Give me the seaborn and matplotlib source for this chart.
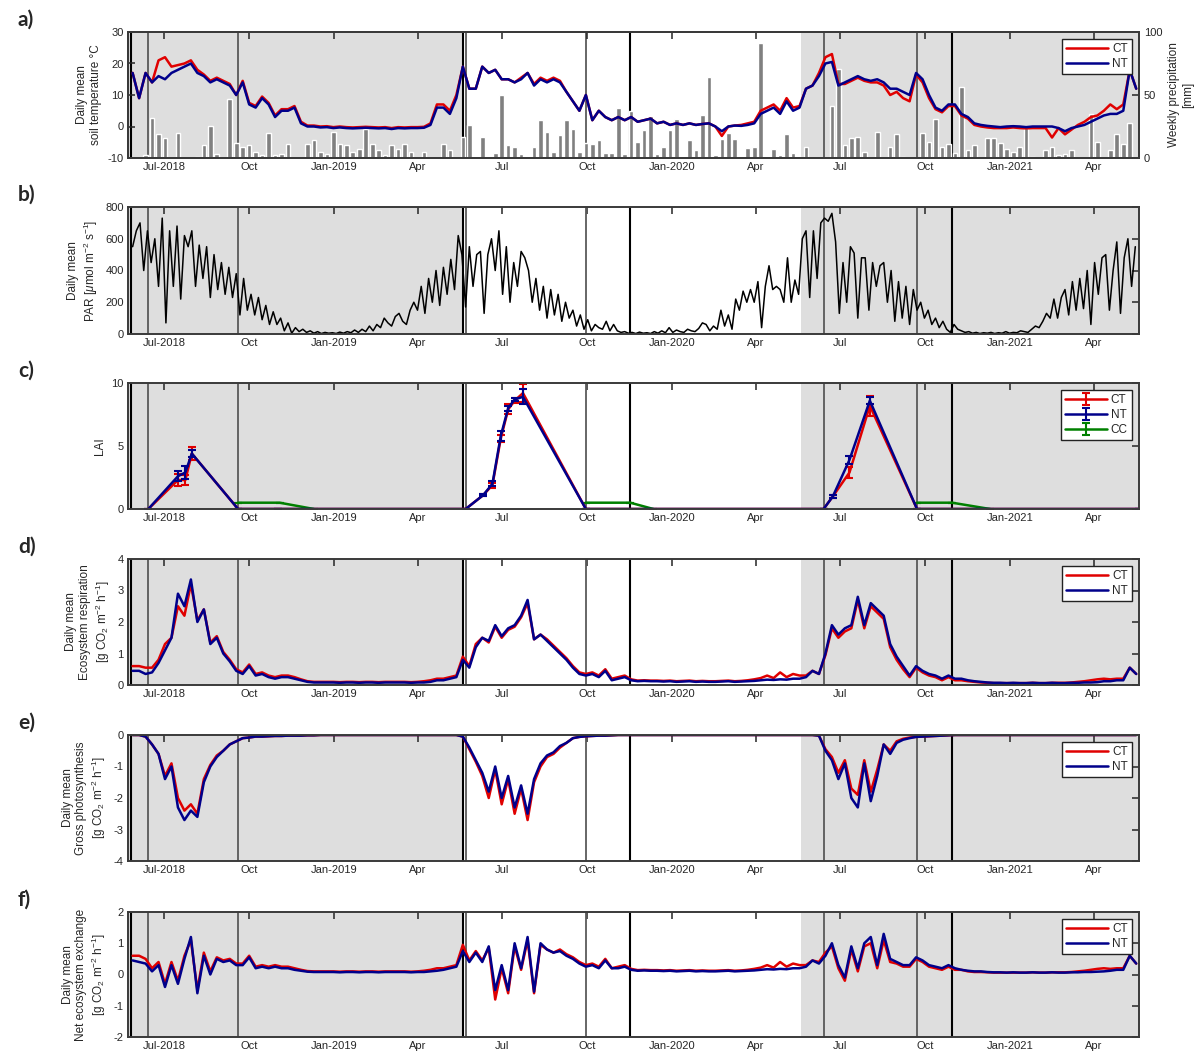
import matplotlib
matplotlib.use('Agg')
import matplotlib.pyplot as plt
import pandas as pd
import seaborn as sns

sns.set_theme(style='white')
plt.rcParams['font.family'] = ['Liberation Sans', 'DejaVu Sans']
plt.rcParams['mathtext.fontset'] = 'custom'
plt.rcParams['mathtext.rm'] = 'Liberation Sans'
plt.rcParams['mathtext.it'] = 'Liberation Sans:italic'
plt.rcParams['mathtext.bf'] = 'Liberation Sans:bold'
plt.rcParams['axes.unicode_minus'] = False

# ---- data ----
# weekly values starting 2018-05-28
SERIES_START = '2018-05-28'

soil_t_ct = [17, 9, 17, 14, 21, 22, 19, 19.5, 20, 21,
             18, 16.5, 14.5, 15.5, 14.5, 13.5, 10, 14.5, 7.5, 6.5,
             9.5, 7.5, 3.5, 5.5, 5.5, 6.5, 1.5, 0.3, 0.3, 0,
             0.1, -0.2, 0, -0.2, -0.3, -0.2, -0.1, -0.2, -0.3, -0.2,
             -0.5, -0.2, -0.3, -0.2, -0.2, -0.1, 1, 7, 7, 5,
             10, 19, 12, 12, 19, 17, 18, 15, 15, 14,
             15.5, 17, 13.5, 15.5, 14.5, 15.5, 14.5, 11, 8, 5,
             10, 2, 5, 3, 2, 3, 2, 3, 1.5, 2,
             2.5, 1, 1.5, 0.5, 1, 0.5, 1, 0.5, 0.8, 1,
             0, -3, 0, 0.3, 0.5, 1, 1.5, 5, 6, 7,
             5, 9, 6, 6.5, 12, 13, 17, 22, 23, 13.5,
             13.5, 14.5, 15.5, 14.5, 14, 14, 13, 10, 11, 9,
             8, 16.5, 14, 9, 5.5, 4.5, 6.5, 6.5, 3.5, 2.5,
             0.5, 0, -0.3, -0.5, -0.5, -0.5, -0.3, -0.5, -0.6, -0.5,
             -0.5, -0.5, -3.5, -0.5, -2.5, -1, 0.5, 1.5, 3, 3.5,
             5, 7, 5.5, 7, 18, 12]
soil_t_nt = [17, 9, 17, 14, 16, 15, 17, 18, 19, 20,
             17, 16, 14, 15, 14, 13, 10, 14, 7, 6,
             9, 7, 3, 5, 5, 6, 1, 0, 0, -0.3,
             -0.2, -0.5, -0.3, -0.5, -0.6, -0.5, -0.4, -0.5, -0.6, -0.5,
             -0.8, -0.5, -0.6, -0.5, -0.5, -0.4, 0.5, 6, 6, 4,
             9, 19, 12, 12, 19, 17, 18, 15, 15, 14,
             15, 17, 13, 15, 14, 15, 14, 11, 8, 5,
             10, 2, 5, 3, 2, 3, 2, 3, 1.5, 2,
             2.5, 1, 1.5, 0.5, 1, 0.5, 1, 0.5, 0.8, 1,
             0, -1.5, 0, 0.3, 0.2, 0.5, 1, 4, 5, 6,
             4, 8, 5, 6, 12, 13, 16, 20, 20.5, 13,
             14, 15, 16, 15, 14.5, 15, 14, 12, 12, 11,
             10, 17, 15, 10, 6, 5, 7, 7, 4, 3,
             1, 0.5, 0.2, 0, -0.2, 0, 0.1, 0, -0.2, 0,
             0, 0, 0, -0.5, -1.5, -0.5, 0, 0.5, 1.5, 2.5,
             3.5, 4, 4, 5, 18, 12]
precip_weekly = [0, 0, 2, 32, 19, 16, 0, 20, 0, 0,
                 1, 10, 25, 3, 0, 47, 12, 9, 10, 5,
                 2, 20, 2, 3, 11, 0, 0, 11, 14, 5,
                 3, 21, 11, 10, 5, 7, 23, 11, 6, 2,
                 10, 7, 11, 5, 0, 5, 0, 0, 11, 6,
                 0, 17, 26, 0, 17, 1, 4, 50, 10, 9,
                 3, 0, 9, 30, 21, 5, 18, 30, 23, 5,
                 12, 11, 14, 4, 4, 40, 3, 37, 13, 22,
                 33, 3, 9, 22, 31, 0.5, 14, 6, 34, 64,
                 2, 15, 20, 15, 0, 8, 8.5, 91, 0, 7,
                 2, 19, 4, 1, 9, 0, 0, 0, 41, 71,
                 10, 16, 17, 5, 0, 21, 0, 8.5, 19, 1,
                 0, 0, 20, 13, 31, 9, 11, 4, 56, 6,
                 10, 0, 15.5, 15.5, 12, 7.5, 5, 9, 24, 1,
                 0, 6, 9, 2, 3, 6, 0, 0, 35, 13,
                 0, 6, 19, 11, 28, 0]

# PAR every 4 days starting 2018-05-28
par = [550, 650, 700, 400, 650, 450, 600, 300, 730, 70,
       650, 300, 680, 220, 620, 550, 650, 300, 560, 350,
       550, 230, 500, 280, 450, 250, 420, 230, 380, 120,
       350, 150, 250, 120, 230, 90, 180, 60, 140, 60,
       100, 20, 70, 5, 40, 15, 30, 10, 20, 5,
       15, 3, 10, 5, 8, 3, 12, 5, 15, 8,
       25, 10, 30, 15, 50, 20, 60, 40, 100, 70,
       50, 110, 130, 80, 60, 150, 200, 150, 300, 130,
       350, 200, 400, 180, 420, 250, 470, 280, 620, 500,
       170, 550, 300, 500, 520, 130, 500, 600, 400, 650,
       250, 550, 200, 450, 300, 520, 480, 400, 200, 350,
       150, 300, 100, 280, 120, 250, 80, 200, 100, 150,
       50, 120, 30, 90, 20, 60, 40, 30, 80, 20,
       60, 20, 10, 15, 5, 10, 3, 12, 5, 8,
       3, 15, 5, 20, 8, 40, 10, 25, 15, 10,
       30, 20, 15, 35, 70, 60, 20, 50, 30, 150,
       50, 120, 30, 220, 150, 270, 200, 280, 200, 330,
       40, 300, 430, 280, 300, 280, 200, 480, 200, 340,
       250, 600, 650, 230, 650, 350, 700, 730, 710, 760,
       580, 130, 450, 200, 550, 510, 100, 480, 480, 150,
       450, 300, 430, 450, 200, 400, 80, 330, 100, 300,
       60, 280, 150, 200, 100, 150, 60, 100, 40, 80,
       30, 10, 60, 30, 20, 10, 15, 5, 10, 3,
       8, 5, 10, 3, 8, 5, 15, 5, 10, 8,
       20, 15, 10, 30, 50, 40, 80, 130, 100, 220,
       100, 230, 280, 120, 330, 150, 350, 160, 400, 60,
       450, 250, 480, 500, 150, 400, 580, 130, 480, 600,
       300, 550]

lai_dates = ['2018-06-14', '2018-07-16', '2018-07-24', '2018-07-31', '2018-09-19',
             '2018-11-01', '2019-05-23', '2019-06-11', '2019-06-21', '2019-06-30',
             '2019-07-08', '2019-07-15', '2019-07-24', '2019-09-30', '2020-06-13',
             '2020-06-23', '2020-07-11', '2020-08-02', '2020-09-22', '2021-05-20']
lai_ct = [0, 2.3, 2.3, 4.4, 0, 0, 0, 1.1, 1.9, 5.6, 7.9, 8.6, 9.2, 0, 0, 1.0, 2.9, 8.2, 0, 0]
lai_ct_sd = [0, 0.5, 0.4, 0.55, 0, 0, 0, 0.1, 0.2, 0.3, 0.4, 0.2, 0.7, 0, 0, 0.1, 0.4, 0.8, 0, 0]
lai_nt = [0, 2.6, 2.9, 4.4, 0, 0, 0, 1.1, 2.0, 5.8, 8.0, 8.7, 8.9, 0, 0, 1.0, 3.9, 8.6, 0, 0]
lai_nt_sd = [0, 0.4, 0.5, 0.3, 0, 0, 0, 0.1, 0.2, 0.4, 0.2, 0.1, 0.6, 0, 0, 0.1, 0.3, 0.3, 0, 0]
cc_dates = [['2018-09-19', '2018-11-03', '2018-12-10'],
            ['2019-09-30', '2019-11-17', '2019-12-12'],
            ['2020-09-22', '2020-10-30', '2020-12-10']]
cc_lai = [0.5, 0.5, 0]

reco_ct = [0.6, 0.6, 0.55, 0.55, 0.8, 1.3, 1.5, 2.5, 2.2, 3.2,
           2.05, 2.4, 1.35, 1.55, 1.05, 0.8, 0.5, 0.4, 0.65, 0.35,
           0.4, 0.3, 0.25, 0.3, 0.3, 0.25, 0.18, 0.12, 0.1, 0.1,
           0.1, 0.1, 0.09, 0.1, 0.1, 0.09, 0.1, 0.1, 0.09, 0.1,
           0.1, 0.1, 0.1, 0.09, 0.1, 0.12, 0.15, 0.2, 0.2, 0.25,
           0.3, 0.9, 0.6, 1.3, 1.5, 1.35, 1.85, 1.5, 1.75, 1.85,
           2.15, 2.6, 1.45, 1.6, 1.45, 1.25, 1.05, 0.85, 0.6, 0.4,
           0.35, 0.4, 0.3, 0.5, 0.2, 0.25, 0.3, 0.18, 0.14, 0.15,
           0.14, 0.14, 0.13, 0.14, 0.12, 0.13, 0.14, 0.12, 0.13, 0.12,
           0.12, 0.13, 0.14, 0.12, 0.13, 0.15, 0.18, 0.22, 0.3, 0.22,
           0.4, 0.25, 0.35, 0.3, 0.3, 0.45, 0.35, 0.95, 1.8, 1.5,
           1.7, 1.8, 2.7, 1.8, 2.5, 2.3, 2.1, 1.2, 0.8, 0.5,
           0.25, 0.55, 0.4, 0.3, 0.25, 0.15, 0.25, 0.15, 0.15, 0.12,
           0.1, 0.08, 0.07, 0.06, 0.06, 0.06, 0.06, 0.06, 0.06, 0.07,
           0.06, 0.06, 0.07, 0.07, 0.07, 0.08, 0.1, 0.12, 0.15, 0.18,
           0.2, 0.18, 0.2, 0.2, 0.55, 0.35]
reco_nt = [0.45, 0.45, 0.35, 0.4, 0.7, 1.1, 1.5, 2.9, 2.5, 3.35,
           2.0, 2.4, 1.3, 1.5, 1.0, 0.75, 0.45, 0.35, 0.6, 0.3,
           0.35, 0.25, 0.2, 0.25, 0.25, 0.2, 0.15, 0.1, 0.08, 0.08,
           0.08, 0.08, 0.07, 0.08, 0.08, 0.07, 0.08, 0.08, 0.07, 0.08,
           0.08, 0.08, 0.08, 0.07, 0.08, 0.08, 0.1, 0.15, 0.15, 0.2,
           0.25, 0.8, 0.55, 1.2, 1.5, 1.4, 1.9, 1.55, 1.8, 1.9,
           2.2, 2.7, 1.45, 1.6, 1.4, 1.2, 1.0, 0.8, 0.55, 0.35,
           0.3, 0.35, 0.25, 0.45, 0.15, 0.2, 0.25, 0.15, 0.12, 0.13,
           0.12, 0.12, 0.11, 0.12, 0.1, 0.11, 0.12, 0.1, 0.11, 0.1,
           0.1, 0.11, 0.12, 0.1, 0.11, 0.12, 0.13, 0.15, 0.17, 0.16,
           0.18, 0.17, 0.2, 0.2, 0.25, 0.45, 0.35, 1.0, 1.9, 1.6,
           1.8, 1.9, 2.8, 1.9, 2.6, 2.4, 2.2, 1.3, 0.9, 0.6,
           0.3, 0.6, 0.45, 0.35, 0.3, 0.2, 0.3, 0.2, 0.2, 0.15,
           0.12, 0.1, 0.08, 0.07, 0.07, 0.06, 0.07, 0.06, 0.06, 0.07,
           0.06, 0.06, 0.07, 0.06, 0.06, 0.07, 0.07, 0.08, 0.08, 0.09,
           0.12, 0.12, 0.15, 0.15, 0.55, 0.35]

gpp_ct = [0, 0, -0.05, -0.3, -0.6, -1.3, -0.9, -2.0, -2.4, -2.2,
          -2.5, -1.4, -0.95, -0.65, -0.5, -0.3, -0.2, -0.1, -0.08, -0.05,
          -0.05, -0.04, -0.03, -0.03, -0.02, -0.02, -0.02, -0.01, -0.01, 0,
          0, 0, 0, 0, 0, 0, 0, 0, 0, 0,
          0, 0, 0, 0, 0, 0, 0, 0, 0, 0,
          0, -0.05, -0.45, -0.85, -1.3, -2.0, -1.1, -2.2, -1.4, -2.5,
          -1.7, -2.7, -1.5, -1.0, -0.7, -0.6, -0.4, -0.25, -0.1, -0.06,
          -0.04, -0.03, -0.02, -0.02, -0.01, 0, 0, 0, 0, 0,
          0, 0, 0, 0, 0, 0, 0, 0, 0, 0,
          0, 0, 0, 0, 0, 0, 0, 0, 0, 0,
          0, 0, 0, 0, 0, 0, -0.02, -0.45, -0.7, -1.2,
          -0.8, -1.7, -1.9, -0.8, -1.8, -1.1, -0.3, -0.5, -0.2, -0.12,
          -0.08, -0.06, -0.05, -0.04, -0.03, -0.02, -0.01, 0, 0, 0,
          0, 0, 0, 0, 0, 0, 0, 0, 0, 0,
          0, 0, 0, 0, 0, 0, 0, 0, 0, 0,
          0, 0, 0, 0, 0, 0]
gpp_nt = [0, 0, -0.05, -0.3, -0.6, -1.4, -1.0, -2.3, -2.7, -2.4,
          -2.6, -1.5, -1.0, -0.7, -0.5, -0.3, -0.2, -0.1, -0.08, -0.05,
          -0.05, -0.04, -0.03, -0.03, -0.02, -0.02, -0.02, -0.01, -0.01, 0,
          0, 0, 0, 0, 0, 0, 0, 0, 0, 0,
          0, 0, 0, 0, 0, 0, 0, 0, 0, 0,
          0, -0.05, -0.4, -0.8, -1.2, -1.8, -1.0, -2.0, -1.3, -2.3,
          -1.6, -2.5, -1.4, -0.9, -0.65, -0.55, -0.35, -0.25, -0.1, -0.06,
          -0.04, -0.03, -0.02, -0.02, -0.01, 0, 0, 0, 0, 0,
          0, 0, 0, 0, 0, 0, 0, 0, 0, 0,
          0, 0, 0, 0, 0, 0, 0, 0, 0, 0,
          0, 0, 0, 0, 0, 0, -0.02, -0.5, -0.8, -1.4,
          -0.9, -2.0, -2.3, -0.9, -2.1, -1.3, -0.3, -0.6, -0.25, -0.15,
          -0.1, -0.06, -0.05, -0.04, -0.03, -0.02, -0.01, 0, 0, 0,
          0, 0, 0, 0, 0, 0, 0, 0, 0, 0,
          0, 0, 0, 0, 0, 0, 0, 0, 0, 0,
          0, 0, 0, 0, 0, 0]

nee_ct = [0.6, 0.6, 0.5, 0.2, 0.4, -0.3, 0.4, -0.2, 0.6, 1.1,
          -0.5, 0.7, 0.1, 0.55, 0.45, 0.5, 0.35, 0.35, 0.6, 0.25,
          0.3, 0.25, 0.3, 0.25, 0.25, 0.2, 0.15, 0.11, 0.1, 0.1,
          0.1, 0.1, 0.09, 0.1, 0.1, 0.09, 0.1, 0.1, 0.09, 0.1,
          0.1, 0.1, 0.1, 0.09, 0.1, 0.12, 0.15, 0.2, 0.2, 0.25,
          0.3, 0.95, 0.45, 0.75, 0.45, 0.85, -0.8, 0.2, -0.6, 0.9,
          0.15, 1.1, -0.6, 0.95, 0.8, 0.7, 0.8, 0.65, 0.55, 0.4,
          0.3, 0.35, 0.25, 0.5, 0.2, 0.25, 0.3, 0.18, 0.14, 0.15,
          0.14, 0.14, 0.13, 0.14, 0.12, 0.13, 0.14, 0.12, 0.13, 0.12,
          0.12, 0.13, 0.14, 0.12, 0.13, 0.15, 0.18, 0.22, 0.3, 0.22,
          0.4, 0.25, 0.35, 0.3, 0.3, 0.45, 0.4, 0.7, 0.9, 0.2,
          -0.2, 0.8, 0.1, 0.9, 1.0, 0.2, 1.1, 0.4, 0.35, 0.25,
          0.25, 0.5, 0.4, 0.25, 0.2, 0.15, 0.25, 0.15, 0.15, 0.1,
          0.08, 0.08, 0.07, 0.06, 0.06, 0.06, 0.06, 0.06, 0.06, 0.07,
          0.06, 0.06, 0.07, 0.07, 0.07, 0.08, 0.1, 0.12, 0.15, 0.18,
          0.2, 0.18, 0.2, 0.2, 0.6, 0.35]
nee_nt = [0.45, 0.4, 0.35, 0.1, 0.3, -0.4, 0.3, -0.3, 0.5, 1.2,
          -0.6, 0.6, 0.0, 0.5, 0.4, 0.45, 0.3, 0.3, 0.55, 0.2,
          0.25, 0.2, 0.25, 0.2, 0.2, 0.15, 0.12, 0.09, 0.08, 0.08,
          0.08, 0.08, 0.07, 0.08, 0.08, 0.07, 0.08, 0.08, 0.07, 0.08,
          0.08, 0.08, 0.08, 0.07, 0.08, 0.08, 0.1, 0.12, 0.15, 0.2,
          0.25, 0.75, 0.4, 0.7, 0.4, 0.9, -0.5, 0.3, -0.5, 1.0,
          0.2, 1.2, -0.55, 1.0, 0.8, 0.7, 0.75, 0.6, 0.5, 0.35,
          0.25, 0.3, 0.2, 0.45, 0.2, 0.2, 0.25, 0.15, 0.12, 0.13,
          0.12, 0.12, 0.11, 0.12, 0.1, 0.11, 0.12, 0.1, 0.11, 0.1,
          0.1, 0.11, 0.12, 0.1, 0.11, 0.12, 0.13, 0.15, 0.17, 0.16,
          0.18, 0.17, 0.2, 0.2, 0.25, 0.45, 0.35, 0.6, 1.0, 0.3,
          -0.1, 0.9, 0.2, 1.0, 1.2, 0.3, 1.3, 0.5, 0.4, 0.3,
          0.3, 0.55, 0.45, 0.3, 0.25, 0.2, 0.3, 0.2, 0.15, 0.12,
          0.1, 0.1, 0.08, 0.07, 0.07, 0.06, 0.07, 0.06, 0.06, 0.07,
          0.06, 0.06, 0.07, 0.06, 0.06, 0.07, 0.07, 0.08, 0.08, 0.09,
          0.1, 0.12, 0.15, 0.15, 0.6, 0.35]

# management events and shaded periods
black_lines = ['2018-05-26', '2019-05-20', '2019-11-17', '2020-10-30']
gray_lines = ['2018-06-14', '2018-09-19', '2019-05-23', '2019-09-30', '2020-06-13', '2020-09-22']
shaded = [('2018-05-01', '2019-05-20'), ('2020-05-20', '2021-06-01')]

tick_dates = ['2018-07-01', '2018-10-01', '2019-01-01', '2019-04-01', '2019-07-01', '2019-10-01',
              '2020-01-01', '2020-04-01', '2020-07-01', '2020-10-01', '2021-01-01', '2021-04-01']
tick_labels = ['Jul-2018', 'Oct', 'Jan-2019', 'Apr', 'Jul', 'Oct',
               'Jan-2020', 'Apr', 'Jul', 'Oct', 'Jan-2021', 'Apr']

RED = '#e00000'
BLUE = '#00008b'
GREEN = '#008000'
SHADE = '#dedede'

week_dates = pd.date_range(SERIES_START, periods=len(soil_t_nt), freq='7D')
par_dates = pd.date_range(SERIES_START, periods=len(par), freq='4D')
lai_dt = pd.to_datetime(lai_dates)

weekly = pd.DataFrame({'date': week_dates, 'soil_ct': soil_t_ct, 'soil_nt': soil_t_nt,
                       'precip': precip_weekly, 'reco_ct': reco_ct, 'reco_nt': reco_nt,
                       'gpp_ct': gpp_ct, 'gpp_nt': gpp_nt, 'nee_ct': nee_ct, 'nee_nt': nee_nt})
par_df = pd.DataFrame({'date': par_dates, 'par': par})

W, H = 1202, 1053
fig = plt.figure(figsize=(W / 100, H / 100), dpi=100)
left_px, right_px = 128, 1139
panel_px = [(32, 158), (207, 334), (383, 509), (559, 685), (735, 861), (912, 1037)]
axes = [fig.add_axes([left_px / W, 1 - b / H, (right_px - left_px) / W, (b - t) / H])
        for t, b in panel_px]


def background(ax):
    for a, b in shaded:
        ax.axvspan(pd.Timestamp(a), pd.Timestamp(b), color=SHADE, lw=0, zorder=0)
    for d in gray_lines:
        ax.axvline(pd.Timestamp(d), color='#5a5a5a', lw=1.3, zorder=1)
    for d in black_lines:
        ax.axvline(pd.Timestamp(d), color='black', lw=1.5, zorder=1)


def style(ax, ylim, yticks, ylabel):
    ax.set_xlim(pd.Timestamp('2018-05-23'), pd.Timestamp('2021-05-20'))
    ax.set_xticks(pd.to_datetime(tick_dates))
    ax.set_xticklabels(tick_labels)
    ax.set_ylim(*ylim)
    ax.set_yticks(yticks)
    ax.set_ylabel(ylabel, fontsize=8.5, color='#262626', labelpad=4)
    ax.set_xlabel('')
    ax.tick_params(direction='in', top=True, right=True, length=5, width=1.1,
                   labelsize=8, colors='#262626', pad=3)
    for s in ax.spines.values():
        s.set_color('#3a3a3a')
        s.set_linewidth(1.4)
        s.set_zorder(5)


def legend(ax, **kw):
    lg = ax.legend(loc='upper right', fontsize=8.5, frameon=True, fancybox=False,
                   framealpha=1, edgecolor='#222222', handlelength=3.6,
                   borderpad=0.35, labelspacing=0.25, handletextpad=0.3,
                   borderaxespad=0.6, **kw)
    lg.get_frame().set_linewidth(1.0)
    lg.set_zorder(10)


# a) soil temperature + precipitation
ax = axes[0]
ax2 = ax.twinx()
ax.set_zorder(ax2.get_zorder() + 1)
ax.patch.set_visible(False)
background(ax2)
ax2.bar(weekly['date'], weekly['precip'], width=5, color='#808080', zorder=2)
ax2.set_ylim(0, 100)
ax2.set_yticks([0, 50, 100])
ax2.set_ylabel('Weekly precipitation\n[mm]', fontsize=8.5, color='#262626')
ax2.tick_params(direction='in', length=5, width=1.1, labelsize=8, colors='#262626')
ax2.grid(False)
sns.lineplot(data=weekly, x='date', y='soil_ct', ax=ax, color=RED, lw=1.8, label='CT', zorder=3)
sns.lineplot(data=weekly, x='date', y='soil_nt', ax=ax, color=BLUE, lw=1.8, label='NT', zorder=4)
style(ax, (-10, 30), [-10, 0, 10, 20, 30], 'Daily mean\nsoil temperature °C')
ax.tick_params(right=False)
legend(ax)

# b) PAR
ax = axes[1]
background(ax)
sns.lineplot(data=par_df, x='date', y='par', ax=ax, color='black', lw=1.1, zorder=3)
style(ax, (0, 800), [0, 200, 400, 600, 800],
      'Daily mean\nPAR [$\\mu$mol m$^{-2}$ s$^{-1}$]')

# c) LAI
ax = axes[2]
background(ax)
ax.errorbar(lai_dt, lai_ct, yerr=lai_ct_sd, color=RED, lw=1.8, elinewidth=1.5,
            capsize=3, capthick=1.5, label='CT', zorder=3)
ax.errorbar(lai_dt, lai_nt, yerr=lai_nt_sd, color=BLUE, lw=1.8, elinewidth=1.5,
            capsize=3, capthick=1.5, label='NT', zorder=4)
for k, season in enumerate(cc_dates):
    ax.errorbar(pd.to_datetime(season), cc_lai, yerr=[0] * len(cc_lai), color=GREEN,
                lw=1.8, elinewidth=1.5, capsize=3, capthick=1.5,
                label='CC' if k == 0 else None, zorder=3)
style(ax, (0, 10), [0, 5, 10], 'LAI')
legend(ax)

# d) ecosystem respiration
ax = axes[3]
background(ax)
sns.lineplot(data=weekly, x='date', y='reco_ct', ax=ax, color=RED, lw=1.8, label='CT', zorder=3)
sns.lineplot(data=weekly, x='date', y='reco_nt', ax=ax, color=BLUE, lw=1.8, label='NT', zorder=4)
style(ax, (0, 4), [0, 1, 2, 3, 4],
      'Daily mean\nEcosystem respiration\n[g CO$_2$ m$^{-2}$ h$^{-1}$]')
legend(ax)

# e) gross photosynthesis
ax = axes[4]
background(ax)
sns.lineplot(data=weekly, x='date', y='gpp_ct', ax=ax, color=RED, lw=1.8, label='CT', zorder=3)
sns.lineplot(data=weekly, x='date', y='gpp_nt', ax=ax, color=BLUE, lw=1.8, label='NT', zorder=4)
style(ax, (-4, 0), [-4, -3, -2, -1, 0],
      'Daily mean\nGross photosynthesis\n[g CO$_2$ m$^{-2}$ h$^{-1}$]')
legend(ax)

# f) net ecosystem exchange
ax = axes[5]
background(ax)
sns.lineplot(data=weekly, x='date', y='nee_ct', ax=ax, color=RED, lw=1.8, label='CT', zorder=3)
sns.lineplot(data=weekly, x='date', y='nee_nt', ax=ax, color=BLUE, lw=1.8, label='NT', zorder=4)
style(ax, (-2, 2), [-2, -1, 0, 1, 2],
      'Daily mean\nNet ecosystem exchange\n[g CO$_2$ m$^{-2}$ h$^{-1}$]')
legend(ax)

for lab, (t, b) in zip(['a)', 'b)', 'c)', 'd)', 'e)', 'f)'], panel_px):
    fig.text(18 / W, 1 - (t - 12) / H, lab, fontsize=15, fontweight='bold',
             family=['Lato', 'DejaVu Sans'], va='center', ha='left')

fig.savefig('out.png', dpi=100)
